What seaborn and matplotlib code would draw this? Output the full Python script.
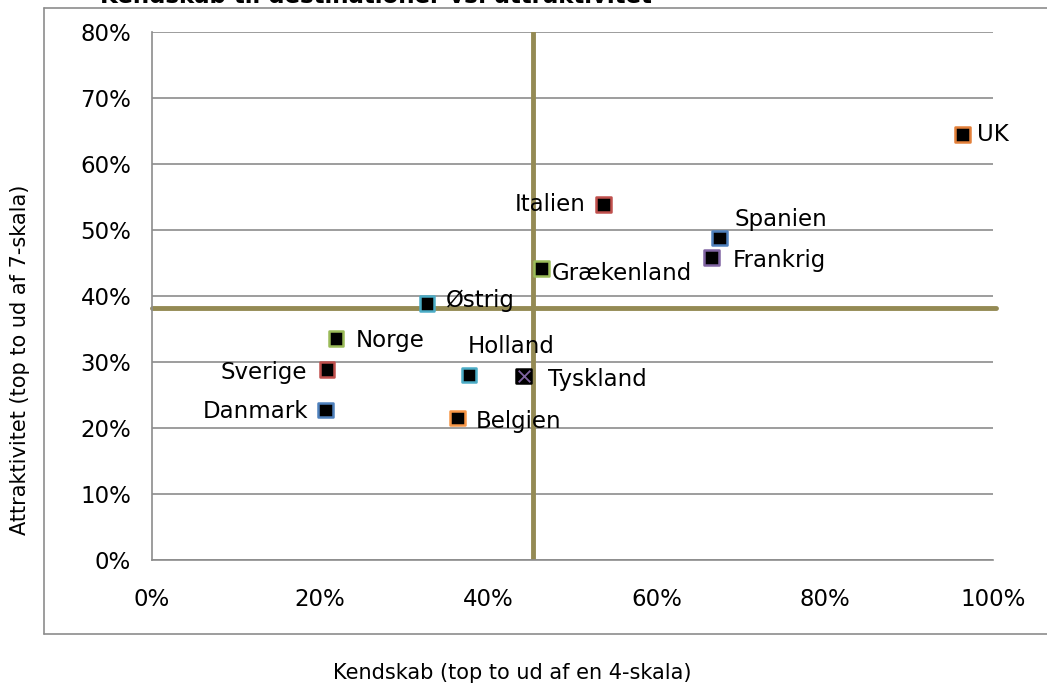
import matplotlib
matplotlib.use("Agg")
import matplotlib.pyplot as plt
import seaborn as sns
import pandas as pd
from matplotlib.ticker import PercentFormatter

countries = ["UK", "Italien", "Spanien", "Frankrig", "Grækenland", "Østrig",
             "Norge", "Sverige", "Holland", "Tyskland", "Danmark", "Belgien"]
kendskab = [96.4, 53.7, 67.5, 66.5, 46.3, 32.7, 21.9, 20.8, 37.7, 44.2, 20.6, 36.3]
attraktivitet = [64.5, 53.9, 48.8, 45.8, 44.2, 38.9, 33.6, 28.9, 28.0, 27.9, 22.7, 21.5]
ref_x = 45.3
ref_y = 38.2

title = "Kendskab til destinationer vs. attraktivitet"
xlabel = "Kendskab (top to ud af en 4-skala)"
ylabel = "Attraktivitet (top to ud af 7-skala)"

edge_colors = ["#E3803A", "#C0504D", "#4F81BD", "#8064A2", "#9BBB59", "#4BACC6",
               "#9BBB59", "#C0504D", "#4BACC6", "#000000", "#4F81BD", "#F79646"]
# label offsets in pixels (dx, dy, ha)
offsets = [(14, 0, "left"), (-18, 0, "right"), (15, 18, "left"), (21, -3, "left"),
           (10, -5, "left"), (19, 3, "left"), (20, -2, "left"), (-20, -3, "right"),
           (-1, 29, "left"), (24, -4, "left"), (-17, -1, "right"), (18, -3, "left")]

df = pd.DataFrame({"Land": countries, "x": kendskab, "y": attraktivitet})

sns.set_style("white")
plt.rcParams["font.family"] = ["DejaVu Sans"]
plt.rcParams["text.color"] = "#000000"

fig = plt.figure(figsize=(10.47, 6.85), dpi=100)
W, H = 1047, 685
ax = fig.add_axes([152 / W, 1 - 560 / H, (993 - 152) / W, (560 - 32) / H])

ax.set_xlim(0, 100)
ax.set_ylim(0, 80)
ax.set_xticks(range(0, 101, 20))
ax.set_yticks(range(0, 81, 10))
ax.xaxis.set_major_formatter(PercentFormatter(decimals=0))
ax.yaxis.set_major_formatter(PercentFormatter(decimals=0))
ax.yaxis.grid(True, color="#8C8C8C", linewidth=1.2)
ax.xaxis.grid(False)
for s in ["top", "right"]:
    ax.spines[s].set_visible(False)
for s in ["left", "bottom"]:
    ax.spines[s].set_color("#8C8C8C")
    ax.spines[s].set_linewidth(1.2)
ax.tick_params(axis="both", which="major", direction="out", length=5, width=1.2,
               color="#8C8C8C", labelsize=16.5, labelcolor="#000000", pad=10)
ax.tick_params(axis="x", pad=15)
ax.set_axisbelow(True)

ref_color = "#948A54"
ax.axvline(ref_x, color=ref_color, linewidth=3.5, zorder=2)
ax.axhline(ref_y, xmin=0, xmax=1.003, color=ref_color, linewidth=3.5, zorder=2, clip_on=False)

sns.scatterplot(data=df, x="x", y="y", hue="Land", palette=dict(zip(countries, ["#000000"] * len(countries))),
                marker="s", s=110, edgecolor=edge_colors, linewidth=1.8, legend=False, ax=ax, zorder=3)
tysk = df[df["Land"] == "Tyskland"]
sns.scatterplot(data=tysk, x="x", y="y", marker="x", s=70, color="#8064A2", linewidth=1.3,
                legend=False, ax=ax, zorder=4)

for (name, xv, yv), (dx, dy, ha) in zip(zip(countries, kendskab, attraktivitet), offsets):
    ax.annotate(name, (xv, yv), xytext=(dx * 0.72, dy * 0.72), textcoords="offset points",
                ha=ha, va="center", fontsize=16.5, color="#000000", zorder=5)

ax.set_xlabel("")
ax.set_ylabel("")
fig.text(512 / W, 1 - 673 / H, xlabel, ha="center", va="center", fontsize=15, color="#000000")
fig.text(20 / W, 1 - 360 / H, ylabel, ha="center", va="center", rotation=90, fontsize=15, color="#000000")

# title partially clipped at top
fig.text(100 / W, 1 - 3 / H, title, ha="left", va="baseline", fontsize=16.5, fontweight="bold",
         color="#000000")

# outer chart frame
frame_color = "#8C8C8C"
fig.add_artist(plt.Line2D([44 / W, 44 / W], [1 - 8 / H, 1 - 634 / H], color=frame_color, linewidth=1.2))
fig.add_artist(plt.Line2D([44 / W, 1.0], [1 - 8 / H, 1 - 8 / H], color=frame_color, linewidth=1.2))
fig.add_artist(plt.Line2D([44 / W, 1.0], [1 - 634 / H, 1 - 634 / H], color=frame_color, linewidth=1.2))

fig.savefig("out.png", dpi=100)
